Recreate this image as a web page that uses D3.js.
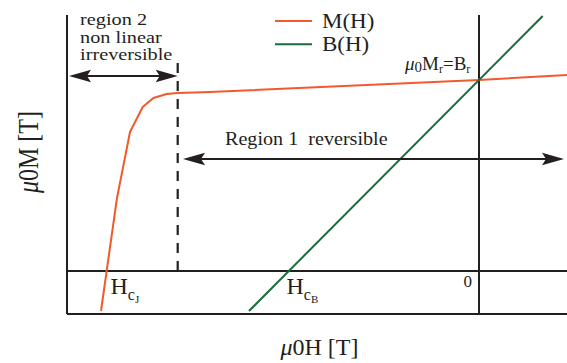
<!DOCTYPE html>
<html><head><meta charset="utf-8">
<script src="https://cdn.jsdelivr.net/npm/d3@7"></script>
<style>body{margin:0;background:#fff}svg{display:block}text{font-family:"Liberation Serif","Times New Roman",serif;fill:#231f20}</style>
</head><body><svg id="c" width="567" height="363"></svg>
<script>
// Data
const mH = [-3.78, -3.62, -3.49, -3.363, -3.257, -3.123, -3.013, -2.69, 0, 0.88];
const mM = [-0.40, 0.73, 1.39, 1.64, 1.73, 1.77, 1.78, 1.79, 1.91, 1.96];
const bH = [-2.30, 0.637];
const bB = [-0.40, 2.55];
const seriesNames = ["M(H)", "B(H)"];
const seriesColors = ["#f15a2b", "#1b6b3a"];
const hDomain = [-4.12, 0.88];
const mDomain = [-0.43, 2.56];
const hcJ = -3.013;      // boundary of region 2
const region2Arrow = [-4.10, -3.013, 1.95];
const region1Arrow = [-2.96, 0.85, 1.12];

const svg = d3.select("#c");
const x = d3.scaleLinear().domain(hDomain).range([67, 567]);
const y = d3.scaleLinear().domain(mDomain).range([314, 15]);
const ink = "#231f20";

// frame lines
const L = (x1,y1,x2,y2,w,dash)=>{const l=svg.append("line").attr("x1",x1).attr("y1",y1).attr("x2",x2).attr("y2",y2).attr("stroke",ink).attr("stroke-width",w||2);if(dash)l.attr("stroke-dasharray",dash);return l;};
L(x(hDomain[0]), y(mDomain[1]), x(hDomain[0]), y(mDomain[0]));
L(x(hDomain[0]), y(mDomain[0]), x(hDomain[1]), y(mDomain[0]));
L(x(hDomain[0]), y(0), x(hDomain[1]), y(0));
L(x(0), y(mDomain[1]), x(0), y(mDomain[0]));
// dashed boundary
L(x(hcJ), y(0), x(hcJ), y(2.15), 2.2, "10,8");

// curves
const line = d3.line().x(d=>x(d[0])).y(d=>y(d[1]));
svg.append("path").datum(mH.map((h,i)=>[h,mM[i]])).attr("d",line).attr("fill","none").attr("stroke",seriesColors[0]).attr("stroke-width",2).attr("stroke-linejoin","round");
svg.append("path").datum(bH.map((h,i)=>[h,bB[i]])).attr("d",line).attr("fill","none").attr("stroke",seriesColors[1]).attr("stroke-width",2);

// arrows
function head(tx, ty, dir){ // dir: +1 pointing right, -1 left
  const len=22, hw=6.2, notch=4;
  const p=[[tx,ty],[tx-dir*len,ty-hw],[tx-dir*(len-notch),ty],[tx-dir*len,ty+hw]];
  svg.append("path").attr("d","M"+p.map(q=>q.join(",")).join("L")+"Z").attr("fill",ink);
}
function dbl(a){
  const x1=x(a[0]), x2=x(a[1]), yy=y(a[2]);
  L(x1+10, yy, x2-10, yy, 2);
  head(x1, yy, -1); head(x2, yy, 1);
}
dbl(region2Arrow); dbl(region1Arrow);

// text helper
function txt(px, py, size, sx, parts, anchor, rot, sy){
  const g = svg.append("g").attr("transform",`translate(${px},${py})`+(rot?` rotate(${rot})`:"")+` scale(${sx},${sy||1})`);
  const t = g.append("text").attr("font-size",size).attr("text-anchor",anchor||"start");
  parts.forEach(p=>{
    const s=t.append("tspan").text(p.t);
    if(p.dy) s.attr("dy",p.dy);
    if(p.fs) s.attr("font-size",p.fs);
    if(p.it) s.attr("font-style","italic");
  });
  return t;
}
// region 2 text
txt(80, 25, 17.5, 1.16, [{t:"region 2"}]);
txt(80, 42.5, 17.5, 1.16, [{t:"non linear"}]);
txt(80, 60, 17.5, 1.16, [{t:"irreversible"}]);
// region 1 text
txt(225, 145, 19, 1.06, [{t:"Region 1\u00a0\u00a0reversible"}]);

// legend
const legY = [21, 44.3];
seriesNames.forEach((n,i)=>{
  svg.append("line").attr("x1",275).attr("x2",312).attr("y1",legY[i]).attr("y2",legY[i]).attr("stroke",seriesColors[i]).attr("stroke-width",2);
  txt(322, legY[i]+6.8, 20, 1.15, [{t:n}]);
});

// mu0 Mr = Br
txt(405, 70, 19, 1.0, [{t:"\u03bc",it:true},{t:"0",dy:2,fs:15},{t:"M",dy:-2},{t:"r",dy:3,fs:12},{t:"=B",dy:-3},{t:"r",dy:3,fs:12}]);
// zero label
txt(472, 287, 17, 1.0, [{t:"0"}], "end");
// Hc labels
txt(110.5, 294, 24, 1.0, [{t:"H"},{t:"c",dy:6,fs:16},{t:"J",dy:3,fs:11}]);
txt(286.5, 294, 24, 1.0, [{t:"H"},{t:"c",dy:6,fs:16},{t:"B",dy:3,fs:11}]);
// axis titles
txt(319.5, 355, 24, 1.0, [{t:"\u03bc",it:true},{t:"0H [T]"}], "middle");
txt(38, 152, 24, 1.0, [{t:"\u03bc",it:true},{t:"0M [T]"}], "middle", -90, 1.2);
</script></body></html>
